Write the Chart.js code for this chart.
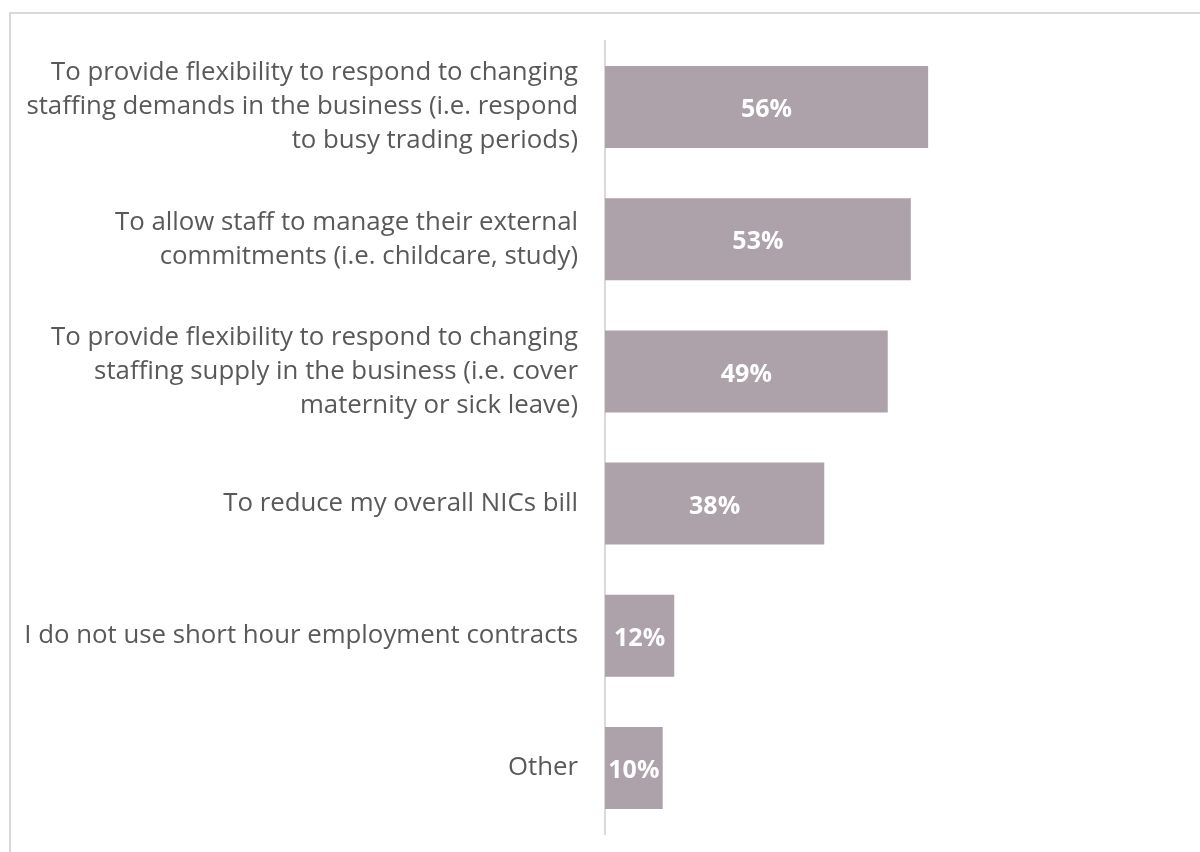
<!DOCTYPE html>
<html lang="en">
<head>
    <meta charset="UTF-8">
    <title>Reasons for short hour contracts</title>
    <script src="https://cdn.jsdelivr.net/npm/chart.js"></script>
    <style>
        body { margin: 0; background: #fff; }
    </style>
</head>
<body>
    <canvas id="myChart" width="1200" height="852"></canvas>

    <script>
        const categories = [
            ['To provide flexibility to respond to changing', 'staffing demands in the business (i.e. respond', 'to busy trading periods)'],
            ['To allow staff to manage their external', 'commitments (i.e. childcare, study)'],
            ['To provide flexibility to respond to changing', 'staffing supply in the business (i.e. cover', 'maternity or sick leave)'],
            'To reduce my overall NICs bill',
            'I do not use short hour employment contracts',
            'Other'
        ];
        const values = [56, 53, 49, 38, 12, 10];
        const valueLabels = ['56%', '53%', '49%', '38%', '12%', '10%'];

        // frame line on the top and left edges
        const framePlugin = {
            id: 'frame',
            beforeDraw(chart) {
                const c = chart.ctx;
                c.save();
                c.strokeStyle = '#d9d9d9';
                c.lineWidth = 2;
                c.beginPath();
                c.moveTo(10, chart.height + 5);
                c.lineTo(10, 13);
                c.lineTo(chart.width + 5, 13);
                c.stroke();
                c.restore();
            }
        };

        // white value labels in the middle of each bar
        const valuePlugin = {
            id: 'values',
            afterDatasetsDraw(chart) {
                const c = chart.ctx;
                const meta = chart.getDatasetMeta(0);
                c.save();
                c.fillStyle = '#ffffff';
                c.font = 'bold 25px "Open Sans"';
                c.textAlign = 'center';
                c.textBaseline = 'middle';
                meta.data.forEach((bar, i) => {
                    c.fillText(valueLabels[i], (bar.base + bar.x) / 2, bar.y + 3);
                });
                c.restore();
            }
        };

        const ctx = document.getElementById('myChart').getContext('2d');

        const myChart = new Chart(ctx, {
            type: 'bar',
            data: {
                labels: categories,
                datasets: [{
                    data: values,
                    backgroundColor: '#ada1aa',
                    categoryPercentage: 1,
                    barPercentage: 0.62
                }]
            },
            options: {
                responsive: false,
                animation: false,
                indexAxis: 'y',
                layout: {
                    padding: { top: 41, bottom: 18, right: 18, left: 0 }
                },
                plugins: {
                    legend: { display: false },
                    tooltip: { enabled: false }
                },
                scales: {
                    x: {
                        display: false,
                        min: 0,
                        max: 100
                    },
                    y: {
                        afterFit: (scale) => {
                            scale.width = 605;
                            scale.paddingTop = 0;
                            scale.paddingBottom = 0;
                        },
                        grid: { display: false, drawTicks: false },
                        border: { display: true, color: '#d9d9d9', width: 2 },
                        ticks: {
                            padding: 27,
                            color: '#595959',
                            font: { family: '"Open Sans"', size: 25.8, lineHeight: 1.32 }
                        }
                    }
                }
            },
            plugins: [framePlugin, valuePlugin]
        });
    </script>
</body>
</html>
